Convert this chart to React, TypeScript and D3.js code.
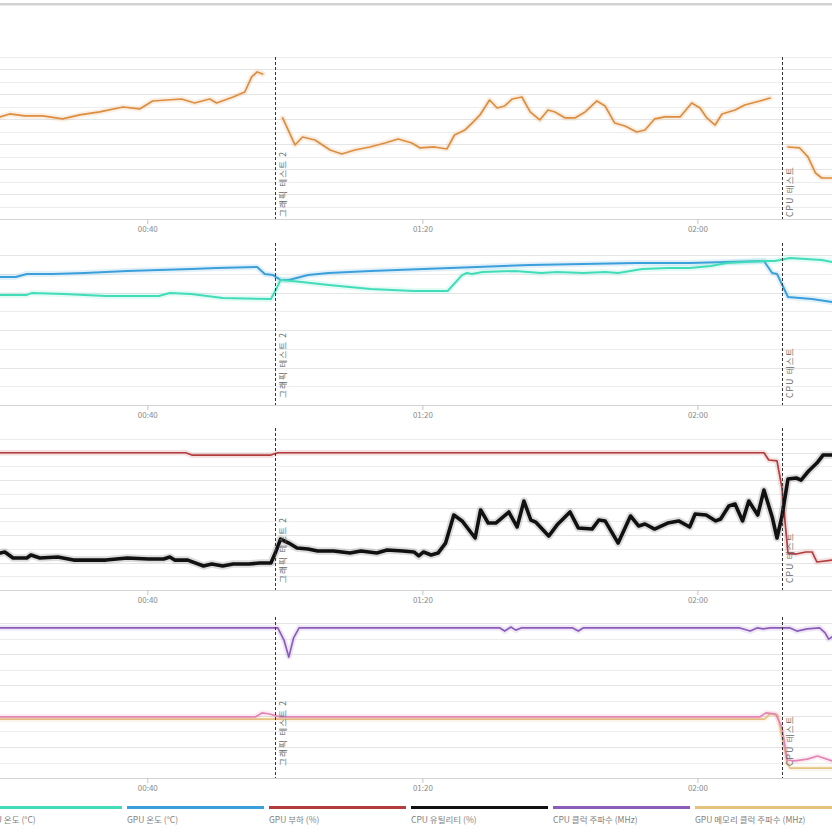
import React from 'react';
import * as d3 from 'd3';

type Pt = [number, number | null];

const W = 832;
const H = 832;
const T0 = 18.5;
const T1 = 139.5;
const tickTimes = [40, 80, 120];
const tickLabels = ['00:40', '01:20', '02:00'];
const eventTimes = [58.5, 132.2];
const eventLabels = ['그래픽 테스트 2', 'CPU 테스트'];

// Panel 1 (orange, legend entry off-screen)
const fps: Pt[] = [
  [18.5, 81.9], [19.9, 84.3], [22.1, 82.7], [24.7, 82.7], [27.6, 80.3], [30.1, 83.5], [33.0, 85.9],
  [36.4, 89.9], [38.8, 88.3], [40.7, 94.7], [44.9, 96.3], [46.8, 93.1], [49.0, 96.3], [50.0, 93.1],
  [52.4, 97.9], [54.1, 101.9], [55.1, 114.0], [55.9, 118.0], [56.7, 116.4], [58.0, null],
  [59.6, 81.1], [61.4, 59.4], [62.5, 65.8], [64.3, 63.4], [66.5, 55.4], [68.2, 52.2], [70.1, 55.4],
  [72.3, 57.8], [74.5, 61.0], [76.4, 64.2], [78.4, 61.0], [79.6, 57.0], [81.7, 57.8], [83.5, 56.2],
  [84.6, 67.4], [86.1, 71.4], [87.3, 77.8], [88.3, 83.5], [89.7, 95.5], [90.8, 89.1], [91.9, 90.7],
  [93.0, 96.3], [94.4, 97.9], [95.6, 85.9], [97.0, 79.5], [98.2, 87.5], [99.2, 85.9], [100.7, 81.1],
  [102.1, 81.1], [103.6, 85.9], [105.3, 94.7], [106.5, 90.7], [107.9, 77.0], [109.4, 74.6],
  [111.1, 69.8], [112.3, 71.4], [113.7, 80.3], [115.2, 81.9], [117.4, 81.9], [119.1, 93.1],
  [120.3, 89.1], [121.3, 81.1], [122.5, 75.4], [123.5, 84.3], [125.4, 87.5], [126.8, 91.5],
  [129.0, 94.7], [130.5, 97.1], [132.0, null],
  [133.1, 57.8], [134.8, 57.0], [136.0, 49.8], [137.1, 36.9], [138.0, 32.9], [139.5, 32.9],
];

// Panel 2
const gpuTemp: Pt[] = [
  [18.5, 68.3], [20.8, 68.3], [22.4, 69.9], [26.2, 69.9], [30.8, 70.4], [37.0, 71.5], [41.6, 72.0],
  [46.3, 72.5], [50.0, 73.1], [55.9, 73.6], [57.0, 69.9], [58.2, 69.3], [59.3, 66.7], [60.5, 66.7],
  [63.3, 69.3], [66.3, 70.4], [72.4, 71.5], [80.1, 72.5], [87.9, 73.6], [95.6, 74.7], [103.3, 75.2],
  [111.1, 75.7], [118.8, 75.7], [129.6, 76.8], [130.8, 70.4], [131.5, 69.9], [133.1, 57.6],
  [136.6, 56.5], [139.5, 54.9],
];
const cpuTemp: Pt[] = [
  [18.5, 58.7], [22.4, 58.7], [23.1, 59.7], [27.8, 59.2], [33.9, 58.1], [41.6, 58.1], [43.2, 59.7],
  [46.3, 59.2], [50.9, 57.1], [57.9, 56.5], [58.6, 61.3], [59.3, 66.7], [62.4, 65.6], [66.3, 64.0],
  [72.4, 61.9], [78.7, 60.8], [83.6, 60.8], [85.7, 69.3], [86.4, 70.4], [87.1, 69.9], [88.7, 70.9],
  [93.4, 71.5], [97.2, 70.4], [99.5, 70.9], [103.3, 70.4], [106.5, 70.9], [108.4, 70.4], [111.9, 72.5],
  [115.6, 73.1], [118.8, 73.1], [121.9, 74.1], [124.2, 75.7], [129.6, 76.8], [131.2, 76.8],
  [133.4, 78.4], [135.7, 77.9], [138.0, 77.3], [139.5, 76.3],
];

// Panel 3
const gpuLoad: Pt[] = [
  [18.5, 100], [45.5, 100], [46.4, 98.3], [57.9, 98.3], [58.9, 100], [129.6, 100], [130.3, 94.7],
  [131.5, 94.0], [132.2, 75.0], [133.1, 26.9], [134.3, 26.2], [135.7, 27.7], [136.6, 27.7],
  [137.3, 20.4], [139.5, 21.8],
];
const cpuUtil: Pt[] = [
  [18.5, 26.9], [19.2, 27.7], [20.4, 23.3], [22.4, 23.3], [23.0, 25.5], [24.3, 23.3], [26.9, 24.0],
  [29.2, 21.8], [33.9, 21.8], [37.0, 23.3], [40.1, 22.6], [42.3, 22.6], [43.2, 24.0], [43.9, 21.8],
  [45.8, 21.8], [48.1, 17.5], [49.3, 18.9], [50.9, 17.5], [52.4, 18.9], [54.7, 18.9], [56.3, 19.7],
  [57.9, 19.7], [58.6, 27.7], [59.3, 37.1], [60.5, 34.2], [61.7, 30.6], [63.3, 29.9], [64.7, 28.4],
  [67.0, 28.4], [69.4, 26.9], [71.0, 28.4], [73.3, 26.9], [74.8, 29.1], [77.1, 28.4], [78.7, 27.7],
  [79.4, 24.8], [80.1, 27.7], [81.2, 25.5], [82.2, 26.9], [83.3, 34.2], [84.5, 54.6], [85.7, 50.3],
  [87.6, 37.9], [88.4, 58.3], [89.5, 48.8], [90.6, 48.8], [92.5, 56.8], [93.7, 45.9], [94.7, 64.8],
  [95.7, 51.0], [96.4, 49.5], [98.3, 39.3], [99.5, 47.3], [101.4, 56.8], [102.6, 45.2], [104.6, 44.4],
  [105.6, 51.0], [106.5, 50.3], [108.4, 34.2], [110.2, 53.9], [111.4, 46.6], [112.3, 48.1],
  [113.7, 44.4], [115.6, 48.8], [117.2, 50.3], [118.8, 45.9], [119.6, 55.4], [121.2, 54.6],
  [122.6, 50.3], [123.3, 51.7], [124.5, 61.2], [125.4, 62.6], [126.5, 50.3], [127.4, 64.8],
  [128.7, 54.6], [129.6, 72.8], [130.8, 53.2], [131.5, 37.9], [132.2, 53.2], [133.1, 80.8],
  [134.3, 81.6], [135.0, 80.1], [136.1, 86.7], [137.3, 92.5], [138.2, 98.3], [139.5, 98.3],
];

// Panel 4
const cpuClock: Pt[] = [
  [18.5, 4840], [58.9, 4840], [59.8, 4450], [60.5, 3900], [61.2, 4520], [62.0, 4840], [91.2, 4840],
  [91.9, 4740], [92.8, 4870], [93.5, 4770], [94.3, 4840], [101.8, 4840], [102.6, 4740], [103.3, 4840],
  [126.1, 4840], [127.6, 4740], [128.6, 4840], [129.5, 4810], [130.5, 4840], [133.4, 4840],
  [134.4, 4740], [135.9, 4810], [137.7, 4840], [138.5, 4680], [139.0, 4480], [139.5, 4550],
];
const gpuClock: Pt[] = [
  [18.5, 1970], [55.6, 1970], [56.6, 2100], [57.7, 2065], [59.2, 1970], [129.0, 1970], [129.9, 2100],
  [131.3, 2065], [132.2, 1645], [133.0, 580], [134.1, 550], [135.9, 610], [137.4, 710], [139.5, 550],
];
const gpuMemClock: Pt[] = [
  [18.5, 1900], [129.7, 1900], [130.5, 2065], [131.6, 2030], [133.0, 485], [133.4, 320], [139.5, 320],
];

const legendNames = [
  'CPU 온도 (°C)', 'GPU 온도 (°C)', 'GPU 부하 (%)', 'CPU 유틸리티 (%)',
  'CPU 클럭 주파수 (MHz)', 'GPU 메모리 클럭 주파수 (MHz)',
];
const legendColors = ['#43dcb9', '#3a9fda', '#b53c3c', '#111111', '#8d5cba', '#e6c27e'];

const FONT = "'Noto Sans CJK KR', 'Noto Sans', sans-serif";

interface SeriesDef { data: Pt[]; color: string; width: number; }
interface PanelDef {
  top: number; bottom: number; yTop: number; domainMax: number; step: number;
  labelBottom: number; series: SeriesDef[];
}

const panels: PanelDef[] = [
  { top: 57, bottom: 219, yTop: 57, domainMax: 130, step: 10, labelBottom: 217,
    series: [{ data: fps, color: '#dc8d3e', width: 1.7 }] },
  { top: 243, bottom: 405, yTop: 255, domainMax: 80, step: 10, labelBottom: 398,
    series: [
      { data: gpuTemp, color: '#3a9fda', width: 2 },
      { data: cpuTemp, color: '#43dcb9', width: 2 },
    ] },
  { top: 428, bottom: 590, yTop: 439, domainMax: 110, step: 10, labelBottom: 583,
    series: [
      { data: gpuLoad, color: '#b53c3c', width: 1.7 },
      { data: cpuUtil, color: '#111111', width: 3.6 },
    ] },
  { top: 617, bottom: 778, yTop: 623, domainMax: 5000, step: 500, labelBottom: 766,
    series: [
      { data: gpuMemClock, color: '#e6c27e', width: 1.7 },
      { data: gpuClock, color: '#e384b4', width: 1.7 },
      { data: cpuClock, color: '#8d5cba', width: 1.7 },
    ] },
];

export default function App() {
  const x = d3.scaleLinear().domain([T0, T1]).range([0, W]);

  return (
    <svg width={W} height={H} style={{ position: 'absolute', left: 0, top: 0, display: 'block', background: '#fff' }}
      fontFamily={FONT}>
      <defs>
        {panels.map((p, i) => (
          <clipPath id={`clip${i}`} key={i}>
            <rect x={0} y={p.top - 4} width={W} height={p.bottom - p.top + 4} />
          </clipPath>
        ))}
      </defs>
      <rect x={0} y={0} width={W} height={H} fill="#fff" />
      <rect x={0} y={3} width={W} height={2.5} fill="#d2d2d2" />

      {panels.map((p, pi) => {
        const y = d3.scaleLinear().domain([0, p.domainMax]).range([p.bottom, p.yTop]);
        const ticks = d3.range(p.step, p.domainMax + p.step / 2, p.step);
        const line = d3.line<Pt>()
          .defined(d => d[1] !== null)
          .x(d => x(d[0]))
          .y(d => y(d[1] as number));
        return (
          <g key={pi}>
            {ticks.map((t, i) => (
              <line key={i} x1={0} x2={W} y1={Math.round(y(t)) + 0.5} y2={Math.round(y(t)) + 0.5}
                stroke={i % 2 === 0 ? '#ededed' : '#e5e5e5'} strokeWidth={1} />
            ))}
            <line x1={0} x2={W} y1={p.bottom + 0.5} y2={p.bottom + 0.5} stroke="#d4d4d4" strokeWidth={1} />
            {tickTimes.map((t, i) => (
              <g key={i}>
                <line x1={x(t)} x2={x(t)} y1={p.bottom} y2={p.bottom + 5} stroke="#c4c4c4" strokeWidth={1} />
                <text x={x(t)} y={p.bottom + 13} textAnchor="middle" fontSize={8} fill="#8a8a8a">
                  {tickLabels[i]}
                </text>
              </g>
            ))}
            <g clipPath={`url(#clip${pi})`}>
              {p.series.map((s, si) => (
                <g key={si}>
                  <path d={line(s.data) || ''} fill="none" stroke={s.color} strokeOpacity={0.15}
                    strokeWidth={s.width + 4} strokeLinejoin="round" strokeLinecap="round" />
                  <path d={line(s.data) || ''} fill="none" stroke={s.color}
                    strokeWidth={s.width} strokeLinejoin="round" strokeLinecap="round" />
                </g>
              ))}
            </g>
            {eventTimes.map((t, i) => {
              const ex = Math.round(x(t)) + 0.5;
              return (
                <g key={i}>
                  <line x1={ex} x2={ex} y1={p.top} y2={p.bottom} stroke="#333" strokeWidth={1}
                    strokeDasharray="3,2" />
                  <text transform={`translate(${ex + 10},${p.labelBottom}) rotate(-90)`}
                    fontSize={8.5} letterSpacing={1.2} fill="#666">{eventLabels[i]}</text>
                </g>
              );
            })}
          </g>
        );
      })}

      {legendNames.map((n, i) => {
        const lx = -15 + i * 142;
        return (
          <g key={i}>
            <rect x={lx} y={806} width={137} height={3} fill={legendColors[i]} />
            <text x={lx} y={823} fontSize={8.5} fill="#808080">{n}</text>
          </g>
        );
      })}
    </svg>
  );
}
